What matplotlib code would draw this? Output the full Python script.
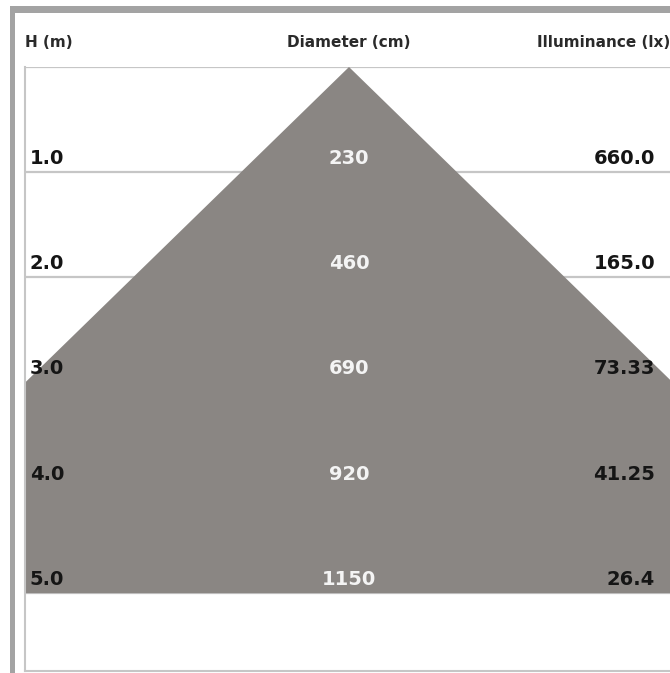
import matplotlib
matplotlib.use("Agg")
import matplotlib.pyplot as plt
from matplotlib.patches import Rectangle, Polygon

# Dados da tabela (altura, diametro do cone, iluminancia)
alturas = [1.0, 2.0, 3.0, 4.0, 5.0]
diametros = [230, 460, 690, 920, 1150]
iluminancia = ["660.0", "165.0", "73.33", "41.25", "26.4"]
cabecalho = ["H (m)", "Diameter (cm)", "Illuminance (lx)"]

plt.rcParams['font.family'] = ['DejaVu Sans']

cinza_cone = '#8a8683'
cinza_linha = '#c6c6c6'
cinza_borda = '#a3a3a3'

fig = plt.figure(figsize=(6.70, 6.73), dpi=100)
fig.patch.set_facecolor('white')

# Moldura externa (faixas superior e esquerda)
fig.add_artist(Rectangle((10 / 670, 0), 5 / 670, 1 - 6 / 673,
                         transform=fig.transFigure, color=cinza_borda, lw=0))
fig.add_artist(Rectangle((10 / 670, 1 - 13 / 673), 1, 7 / 673,
                         transform=fig.transFigure, color=cinza_borda, lw=0))

ax = fig.add_axes([25 / 670, 2 / 673, 648 / 670, 604 / 673])
meia_largura = diametros[2] / 200.0   # tabela corta o cone em H = 3 m
ax.set_xlim(-meia_largura, meia_largura)
ax.set_ylim(5.74, 0)
ax.set_xticks([])
ax.set_yticks([])
for lado in ['top', 'right']:
    ax.spines[lado].set_visible(False)
for lado in ['left', 'bottom']:
    ax.spines[lado].set_color(cinza_linha)
    ax.spines[lado].set_linewidth(1.5)

# Linhas da tabela
ax.axhline(0, color=cinza_linha, lw=1.6, zorder=1)
for h in alturas:
    ax.axhline(h, color=cinza_linha, lw=1.6, zorder=1)

# Cone de luz
r_final = diametros[-1] / 200.0
cone = Polygon([(0, 0), (r_final, alturas[-1]), (-r_final, alturas[-1])],
               closed=True, facecolor=cinza_cone, edgecolor='none', zorder=2)
ax.add_patch(cone)

# Cabecalho
y_cab = -0.23
kw_cab = dict(va='center', fontsize=11, fontweight='bold', color='#2a2a2a', clip_on=False)
ax.text(-meia_largura, y_cab, cabecalho[0], ha='left', **kw_cab)
ax.text(0, y_cab, cabecalho[1], ha='center', **kw_cab)
ax.text(meia_largura - 0.03, y_cab, cabecalho[2], ha='right', **kw_cab)

# Valores
for h, d, e in zip(alturas, diametros, iluminancia):
    y = h - 0.13
    ax.text(-meia_largura + 0.05, y, "%.1f" % h, ha='left', va='center',
            fontsize=14, fontweight='bold', color='#151515', zorder=3)
    ax.text(0, y, str(d), ha='center', va='center',
            fontsize=14, fontweight='bold', color='#f4f4f4', zorder=3)
    ax.text(meia_largura - 0.19, y, e, ha='right', va='center',
            fontsize=14, fontweight='bold', color='#151515', zorder=3)

fig.savefig("out.png", dpi=100)
